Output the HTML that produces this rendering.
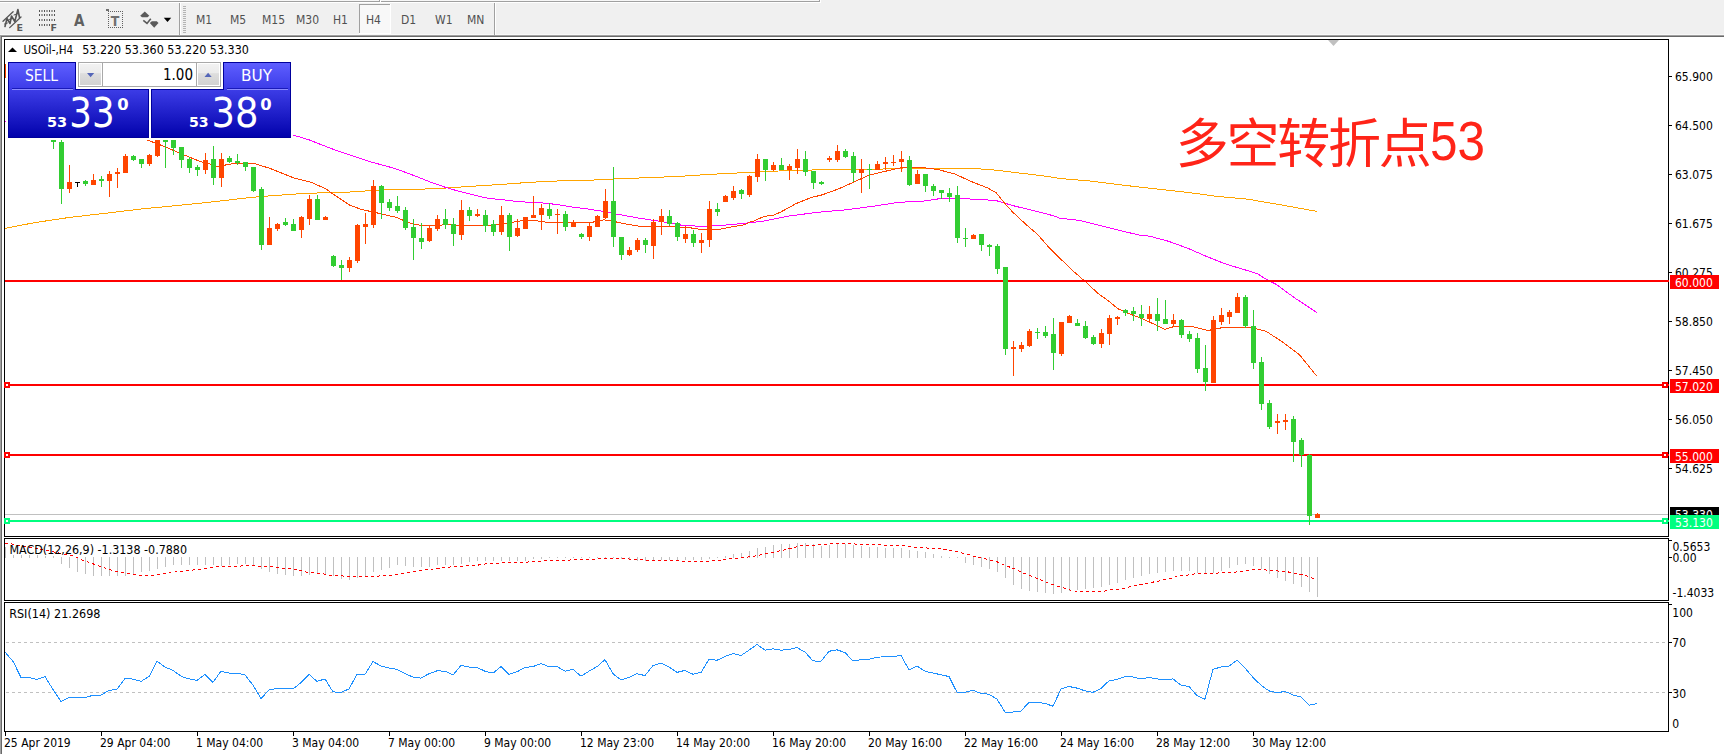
<!DOCTYPE html><html><head><meta charset="utf-8"><title>USOil H4</title><style>html,body{margin:0;padding:0;background:#fff;overflow:hidden}svg{display:block}</style></head><body><svg width="1724" height="754" viewBox="0 0 1724 754">
<rect x="0" y="0" width="1724" height="35" fill="#f0f0f0"/>
<rect x="0" y="0" width="819" height="1" fill="#f7f7f7"/>
<rect x="0" y="1" width="819" height="1" fill="#a0a0a0"/>
<rect x="819" y="0" width="1" height="2" fill="#a0a0a0"/>
<rect x="0" y="2" width="820" height="1" fill="#ffffff"/>
<rect x="820" y="0" width="1" height="3" fill="#ffffff"/>
<rect x="379" y="0" width="1" height="2" fill="#a0a0a0"/>
<rect x="380" y="0" width="1" height="2" fill="#ffffff"/>
<rect x="0" y="34" width="1724" height="1" fill="#f8f8f8"/>
<rect x="0" y="35" width="1724" height="1" fill="#a0a0a0"/>
<rect x="0" y="36" width="1724" height="1" fill="#696969"/>
<rect x="179" y="3" width="1" height="32" fill="#a0a0a0"/>
<rect x="180" y="3" width="1" height="32" fill="#ffffff"/>
<rect x="183" y="6" width="3" height="1" fill="#b4b4b4"/>
<rect x="183" y="8" width="3" height="1" fill="#b4b4b4"/>
<rect x="183" y="10" width="3" height="1" fill="#b4b4b4"/>
<rect x="183" y="12" width="3" height="1" fill="#b4b4b4"/>
<rect x="183" y="14" width="3" height="1" fill="#b4b4b4"/>
<rect x="183" y="16" width="3" height="1" fill="#b4b4b4"/>
<rect x="183" y="18" width="3" height="1" fill="#b4b4b4"/>
<rect x="183" y="20" width="3" height="1" fill="#b4b4b4"/>
<rect x="183" y="22" width="3" height="1" fill="#b4b4b4"/>
<rect x="183" y="24" width="3" height="1" fill="#b4b4b4"/>
<rect x="183" y="26" width="3" height="1" fill="#b4b4b4"/>
<rect x="183" y="28" width="3" height="1" fill="#b4b4b4"/>
<rect x="183" y="30" width="3" height="1" fill="#b4b4b4"/>
<rect x="183" y="32" width="3" height="1" fill="#b4b4b4"/>
<rect x="494" y="3" width="1" height="32" fill="#a0a0a0"/>
<rect x="495" y="3" width="1" height="32" fill="#ffffff"/>
<rect x="359" y="4" width="31" height="29" fill="#f8f8f8"/>
<rect x="359" y="4" width="31" height="1" fill="#a0a0a0"/>
<rect x="359" y="4" width="1" height="29" fill="#a0a0a0"/>
<rect x="390" y="4" width="1" height="29" fill="#ffffff"/>
<rect x="359" y="33" width="32" height="1" fill="#ffffff"/>
<text x="196" y="24" font-size="12" fill="#505050" text-anchor="start" font-weight="normal" font-family="'DejaVu Sans Condensed','DejaVu Sans','Liberation Sans',sans-serif" textLength="16.19" lengthAdjust="spacingAndGlyphs">M1</text>
<text x="230" y="24" font-size="12" fill="#505050" text-anchor="start" font-weight="normal" font-family="'DejaVu Sans Condensed','DejaVu Sans','Liberation Sans',sans-serif" textLength="16.19" lengthAdjust="spacingAndGlyphs">M5</text>
<text x="262" y="24" font-size="12" fill="#505050" text-anchor="start" font-weight="normal" font-family="'DejaVu Sans Condensed','DejaVu Sans','Liberation Sans',sans-serif" textLength="23.06" lengthAdjust="spacingAndGlyphs">M15</text>
<text x="296" y="24" font-size="12" fill="#505050" text-anchor="start" font-weight="normal" font-family="'DejaVu Sans Condensed','DejaVu Sans','Liberation Sans',sans-serif" textLength="23.06" lengthAdjust="spacingAndGlyphs">M30</text>
<text x="333" y="24" font-size="12" fill="#505050" text-anchor="start" font-weight="normal" font-family="'DejaVu Sans Condensed','DejaVu Sans','Liberation Sans',sans-serif" textLength="15" lengthAdjust="spacingAndGlyphs">H1</text>
<text x="366" y="24" font-size="12" fill="#505050" text-anchor="start" font-weight="normal" font-family="'DejaVu Sans Condensed','DejaVu Sans','Liberation Sans',sans-serif" textLength="15" lengthAdjust="spacingAndGlyphs">H4</text>
<text x="401" y="24" font-size="12" fill="#505050" text-anchor="start" font-weight="normal" font-family="'DejaVu Sans Condensed','DejaVu Sans','Liberation Sans',sans-serif" textLength="15.19" lengthAdjust="spacingAndGlyphs">D1</text>
<text x="435" y="24" font-size="12" fill="#505050" text-anchor="start" font-weight="normal" font-family="'DejaVu Sans Condensed','DejaVu Sans','Liberation Sans',sans-serif" textLength="17.55" lengthAdjust="spacingAndGlyphs">W1</text>
<text x="467" y="24" font-size="12" fill="#505050" text-anchor="start" font-weight="normal" font-family="'DejaVu Sans Condensed','DejaVu Sans','Liberation Sans',sans-serif" textLength="17.39" lengthAdjust="spacingAndGlyphs">MN</text>
<g stroke="#555555" fill="none" stroke-linecap="round" stroke-linejoin="round"><path d="M3 21.2 L13.1 11.7" stroke-width="1.3"/><path d="M9.7 27.6 L21 17" stroke-width="1.3"/><path d="M5 26.5 L7 18.5 L10 23.5 L11.5 16 L14.8 21.5 L17.9 9.5 L19.5 17.5" stroke-width="1.6"/><path d="M4.5 24 L7.5 23 M9 19.5 L12.5 18.5 M14 15 L18 13.5" stroke-width="1"/></g>
<text x="16.6" y="30.8" font-size="9.5" fill="#5a5a5a" text-anchor="start" font-weight="bold" font-family="'DejaVu Sans',sans-serif" textLength="6.5" lengthAdjust="spacingAndGlyphs">E</text>
<rect x="39" y="10" width="1" height="2" fill="#555555"/>
<rect x="44" y="10" width="1" height="2" fill="#555555"/>
<rect x="49" y="10" width="1" height="2" fill="#555555"/>
<rect x="54" y="10" width="1" height="2" fill="#555555"/>
<rect x="41" y="10" width="2" height="2" fill="#a0a0a0"/>
<rect x="46" y="10" width="2" height="2" fill="#a0a0a0"/>
<rect x="51" y="10" width="2" height="2" fill="#a0a0a0"/>
<rect x="39" y="14" width="1" height="2" fill="#555555"/>
<rect x="44" y="14" width="1" height="2" fill="#555555"/>
<rect x="49" y="14" width="1" height="2" fill="#555555"/>
<rect x="54" y="14" width="1" height="2" fill="#555555"/>
<rect x="41" y="14" width="2" height="2" fill="#a0a0a0"/>
<rect x="46" y="14" width="2" height="2" fill="#a0a0a0"/>
<rect x="51" y="14" width="2" height="2" fill="#a0a0a0"/>
<rect x="39" y="19" width="1" height="2" fill="#555555"/>
<rect x="44" y="19" width="1" height="2" fill="#555555"/>
<rect x="49" y="19" width="1" height="2" fill="#555555"/>
<rect x="54" y="19" width="1" height="2" fill="#555555"/>
<rect x="41" y="19" width="2" height="2" fill="#a0a0a0"/>
<rect x="46" y="19" width="2" height="2" fill="#a0a0a0"/>
<rect x="51" y="19" width="2" height="2" fill="#a0a0a0"/>
<rect x="39" y="24" width="1" height="2" fill="#555555"/>
<rect x="44" y="24" width="1" height="2" fill="#555555"/>
<rect x="49" y="24" width="1" height="2" fill="#555555"/>
<rect x="41" y="24" width="2" height="2" fill="#a0a0a0"/>
<rect x="46" y="24" width="2" height="2" fill="#a0a0a0"/>
<text x="50.6" y="30.8" font-size="9.5" fill="#5a5a5a" text-anchor="start" font-weight="bold" font-family="'DejaVu Sans',sans-serif" textLength="6.5" lengthAdjust="spacingAndGlyphs">F</text>
<text x="74" y="25.5" font-size="15" fill="#606060" text-anchor="start" font-weight="bold" font-family="'DejaVu Sans Condensed','DejaVu Sans',sans-serif" textLength="10.45" lengthAdjust="spacingAndGlyphs">A</text>
<rect x="108" y="11" width="1" height="1" fill="#606060"/>
<rect x="108" y="27" width="1" height="1" fill="#606060"/>
<rect x="110" y="11" width="1" height="1" fill="#606060"/>
<rect x="110" y="27" width="1" height="1" fill="#606060"/>
<rect x="112" y="11" width="1" height="1" fill="#606060"/>
<rect x="112" y="27" width="1" height="1" fill="#606060"/>
<rect x="114" y="11" width="1" height="1" fill="#606060"/>
<rect x="114" y="27" width="1" height="1" fill="#606060"/>
<rect x="116" y="11" width="1" height="1" fill="#606060"/>
<rect x="116" y="27" width="1" height="1" fill="#606060"/>
<rect x="118" y="11" width="1" height="1" fill="#606060"/>
<rect x="118" y="27" width="1" height="1" fill="#606060"/>
<rect x="120" y="11" width="1" height="1" fill="#606060"/>
<rect x="120" y="27" width="1" height="1" fill="#606060"/>
<rect x="122" y="11" width="1" height="1" fill="#606060"/>
<rect x="122" y="27" width="1" height="1" fill="#606060"/>
<rect x="108" y="13" width="1" height="1" fill="#606060"/>
<rect x="122" y="13" width="1" height="1" fill="#606060"/>
<rect x="108" y="15" width="1" height="1" fill="#606060"/>
<rect x="122" y="15" width="1" height="1" fill="#606060"/>
<rect x="108" y="17" width="1" height="1" fill="#606060"/>
<rect x="122" y="17" width="1" height="1" fill="#606060"/>
<rect x="108" y="19" width="1" height="1" fill="#606060"/>
<rect x="122" y="19" width="1" height="1" fill="#606060"/>
<rect x="108" y="21" width="1" height="1" fill="#606060"/>
<rect x="122" y="21" width="1" height="1" fill="#606060"/>
<rect x="108" y="23" width="1" height="1" fill="#606060"/>
<rect x="122" y="23" width="1" height="1" fill="#606060"/>
<rect x="108" y="25" width="1" height="1" fill="#606060"/>
<rect x="122" y="25" width="1" height="1" fill="#606060"/>
<rect x="106" y="9" width="3" height="2" fill="#707070"/>
<text x="110.8" y="25.5" font-size="14" fill="#707070" text-anchor="start" font-weight="bold" font-family="'DejaVu Sans Condensed','DejaVu Sans',sans-serif" textLength="8.59" lengthAdjust="spacingAndGlyphs">T</text>
<path d="M140.2 15.8 L144.8 11.4 L149.3 15.8 L147.5 17.3 L142 17.3 Z" fill="#5a5a5a"/><path d="M149.8 23 L151.8 21.2 L156.8 21.2 L158.5 23 L154.2 27.8 Z" fill="#5a5a5a"/><path d="M143.3 20.3 L147 23.4 L150.8 18.8" stroke="#5a5a5a" stroke-width="1.6" fill="none"/><path d="M163.8 17.8 L171.2 17.8 L167.5 22 Z" fill="#000"/>
<rect x="0" y="37" width="1724" height="717" fill="#ffffff"/>
<rect x="0" y="35" width="1" height="719" fill="#a0a0a0"/>
<rect x="1" y="36" width="1" height="718" fill="#696969"/>
<g shape-rendering="crispEdges">
<rect x="4" y="39" width="1665" height="1" fill="#000"/>
<rect x="4" y="39" width="1" height="693" fill="#000"/>
<rect x="1668" y="39" width="1" height="693" fill="#000"/>
<rect x="4" y="536" width="1665" height="1" fill="#000"/>
<rect x="4" y="538" width="1665" height="1" fill="#000"/>
<rect x="4" y="600" width="1665" height="1" fill="#000"/>
<rect x="4" y="602" width="1665" height="1" fill="#000"/>
<rect x="4" y="731" width="1665" height="1" fill="#000"/>
<rect x="1668" y="537" width="1" height="1" fill="#fff"/>
<rect x="1668" y="601" width="1" height="1" fill="#fff"/>
<rect x="4" y="537" width="1" height="1" fill="#fff"/>
<rect x="4" y="601" width="1" height="1" fill="#fff"/>
</g>
<rect x="1669" y="76" width="3" height="1" fill="#000"/>
<text x="1675" y="81" font-size="12" fill="#000" text-anchor="start" font-weight="normal" font-family="'DejaVu Sans Condensed','DejaVu Sans','Liberation Sans',sans-serif" textLength="37.77" lengthAdjust="spacingAndGlyphs">65.900</text>
<rect x="1669" y="125" width="3" height="1" fill="#000"/>
<text x="1675" y="130" font-size="12" fill="#000" text-anchor="start" font-weight="normal" font-family="'DejaVu Sans Condensed','DejaVu Sans','Liberation Sans',sans-serif" textLength="37.77" lengthAdjust="spacingAndGlyphs">64.500</text>
<rect x="1669" y="174" width="3" height="1" fill="#000"/>
<text x="1675" y="179" font-size="12" fill="#000" text-anchor="start" font-weight="normal" font-family="'DejaVu Sans Condensed','DejaVu Sans','Liberation Sans',sans-serif" textLength="37.77" lengthAdjust="spacingAndGlyphs">63.075</text>
<rect x="1669" y="223" width="3" height="1" fill="#000"/>
<text x="1675" y="228" font-size="12" fill="#000" text-anchor="start" font-weight="normal" font-family="'DejaVu Sans Condensed','DejaVu Sans','Liberation Sans',sans-serif" textLength="37.77" lengthAdjust="spacingAndGlyphs">61.675</text>
<rect x="1669" y="272" width="3" height="1" fill="#000"/>
<text x="1675" y="277" font-size="12" fill="#000" text-anchor="start" font-weight="normal" font-family="'DejaVu Sans Condensed','DejaVu Sans','Liberation Sans',sans-serif" textLength="37.77" lengthAdjust="spacingAndGlyphs">60.275</text>
<rect x="1669" y="321" width="3" height="1" fill="#000"/>
<text x="1675" y="326" font-size="12" fill="#000" text-anchor="start" font-weight="normal" font-family="'DejaVu Sans Condensed','DejaVu Sans','Liberation Sans',sans-serif" textLength="37.77" lengthAdjust="spacingAndGlyphs">58.850</text>
<rect x="1669" y="370" width="3" height="1" fill="#000"/>
<text x="1675" y="375" font-size="12" fill="#000" text-anchor="start" font-weight="normal" font-family="'DejaVu Sans Condensed','DejaVu Sans','Liberation Sans',sans-serif" textLength="37.77" lengthAdjust="spacingAndGlyphs">57.450</text>
<rect x="1669" y="419" width="3" height="1" fill="#000"/>
<text x="1675" y="424" font-size="12" fill="#000" text-anchor="start" font-weight="normal" font-family="'DejaVu Sans Condensed','DejaVu Sans','Liberation Sans',sans-serif" textLength="37.77" lengthAdjust="spacingAndGlyphs">56.050</text>
<rect x="1669" y="468" width="3" height="1" fill="#000"/>
<text x="1675" y="473" font-size="12" fill="#000" text-anchor="start" font-weight="normal" font-family="'DejaVu Sans Condensed','DejaVu Sans','Liberation Sans',sans-serif" textLength="37.77" lengthAdjust="spacingAndGlyphs">54.625</text>
<defs><clipPath id="cMain"><rect x="5" y="40" width="1663" height="496"/></clipPath></defs>
<g clip-path="url(#cMain)">
<g fill="none" stroke-width="1" shape-rendering="crispEdges" stroke-linejoin="round">
<polyline points="5.0,228.4 34.8,222.6 69.6,217.4 104.4,213.4 139.2,209.2 174.0,205.8 208.8,202.3 243.6,198.3 261.0,196.5 289.6,194.5 305.5,193.2 328.8,192.8 353.2,191.9 374.0,190.3 395.9,189.3 415.0,189.5 444.2,188.1 473.4,186.2 502.6,184.3 531.7,182.2 560.9,180.8 585.0,180.5 616.5,178.8 653.0,177.5 682.1,176.2 711.3,174.3 740.5,172.8 768.3,171.5 793.2,170.3 832.6,169.7 861.7,169.3 890.9,168.9 905.0,167.9 938.2,168.4 976.3,168.6 996.2,170.2 1021.1,173.2 1046.0,176.2 1060.0,178.5 1091.3,181.1 1122.6,185.1 1154.0,188.7 1191.6,192.9 1216.6,196.3 1248.0,199.2 1279.3,204.6 1316.9,211.4" stroke="#ffa500"/>
<polyline points="5.0,121.0 150.0,128.0 293.0,135.0 309.5,140.0 329.4,147.9 349.3,154.9 370.0,161.7 395.0,168.5 415.0,175.9 429.6,181.8 444.2,186.9 458.8,191.3 473.4,194.9 488.0,198.3 502.6,199.7 517.1,201.5 531.7,202.4 546.3,203.2 560.9,205.1 575.5,207.6 585.0,208.5 601.9,211.2 616.5,214.1 638.4,218.0 660.3,221.4 682.1,225.3 704.0,226.5 725.9,225.0 745.0,223.3 764.0,221.1 788.8,216.0 818.0,212.3 847.1,209.7 876.3,205.8 898.2,202.4 915.0,201.4 921.6,201.4 938.2,198.9 954.8,198.4 979.6,199.4 996.2,200.6 1012.8,205.6 1037.7,211.7 1054.3,216.0 1060.0,218.3 1078.8,220.3 1107.0,227.3 1138.3,234.9 1150.0,236.3 1168.9,241.4 1187.8,248.3 1206.7,256.5 1225.6,264.0 1244.5,269.7 1257.0,273.5 1267.1,279.8 1275.9,284.2 1294.8,298.0 1316.9,312.5" stroke="#ff00ff"/>
<polyline points="7.0,92.0 100.0,122.0 147.0,140.0 159.4,144.5 179.3,152.9 191.2,157.9 200.0,161.4 210.0,163.9 218.0,166.8 226.0,164.9 235.0,163.4 253.7,163.4 269.7,168.3 293.5,177.8 311.3,182.3 325.9,188.9 331.7,193.2 349.2,204.9 360.9,209.3 378.4,213.2 395.9,217.3 410.5,223.2 420.0,225.3 432.5,226.0 444.2,224.8 458.8,225.1 482.1,226.0 496.7,224.8 508.4,223.4 517.1,221.2 531.7,220.2 546.3,222.2 560.9,222.6 585.0,222.2 591.7,222.4 603.3,219.9 609.2,220.4 623.8,223.6 641.3,226.5 667.6,226.5 689.4,227.7 701.1,229.4 718.6,229.4 733.2,226.5 743.4,225.0 750.0,222.1 753.8,221.1 764.0,216.4 774.2,215.0 781.5,211.6 796.1,203.6 810.7,197.7 822.3,194.8 838.4,189.0 853.0,182.4 869.0,175.1 890.9,170.0 902.6,167.4 921.6,167.4 938.2,169.6 954.8,174.0 971.3,181.5 987.9,188.1 996.2,192.8 1004.5,203.1 1012.8,212.2 1024.4,223.0 1037.7,234.6 1049.3,247.8 1062.5,260.8 1072.9,270.8 1086.2,282.4 1097.8,293.2 1109.4,301.6 1117.8,308.7 1127.4,313.1 1140.9,318.2 1157.6,325.8 1164.9,329.3 1174.9,326.3 1191.5,326.3 1208.0,330.5 1224.6,327.2 1249.5,327.2 1266.1,331.3 1282.7,342.1 1299.3,354.5 1316.7,376.1" stroke="#ff4500"/>
</g>
</g>
<rect x="5" y="280" width="1664" height="2" fill="#ff0000"/>
<rect x="5" y="384" width="1664" height="2" fill="#ff0000"/>
<rect x="4" y="382" width="6" height="6" fill="#ff0000"/>
<rect x="6" y="384" width="2" height="2" fill="#fff"/>
<rect x="1662" y="382" width="6" height="6" fill="#ff0000"/>
<rect x="1664" y="384" width="2" height="2" fill="#fff"/>
<rect x="1668" y="384" width="1" height="2" fill="#ff0000"/>
<rect x="5" y="454" width="1664" height="2" fill="#ff0000"/>
<rect x="4" y="452" width="6" height="6" fill="#ff0000"/>
<rect x="6" y="454" width="2" height="2" fill="#fff"/>
<rect x="1662" y="452" width="6" height="6" fill="#ff0000"/>
<rect x="1664" y="454" width="2" height="2" fill="#fff"/>
<rect x="1668" y="454" width="1" height="2" fill="#ff0000"/>
<rect x="5" y="514" width="1663" height="1" fill="#c0c0c0"/>
<rect x="5" y="520" width="1664" height="2" fill="#00ff7f"/>
<rect x="4" y="518" width="6" height="6" fill="#00ff7f"/>
<rect x="6" y="520" width="2" height="2" fill="#fff"/>
<rect x="1662" y="518" width="6" height="6" fill="#00ff7f"/>
<rect x="1664" y="520" width="2" height="2" fill="#fff"/>
<rect x="1668" y="520" width="1" height="2" fill="#00ff7f"/>
<g clip-path="url(#cMain)">
<g shape-rendering="crispEdges">
<rect x="5" y="64" width="1" height="14" fill="#ff4500"/>
<rect x="3" y="64" width="5" height="11" fill="#ff4500"/>
<rect x="53" y="140" width="1" height="9" fill="#32cd32"/>
<rect x="51" y="140" width="5" height="2" fill="#32cd32"/>
<rect x="61" y="140" width="1" height="64" fill="#32cd32"/>
<rect x="59" y="142" width="5" height="47" fill="#32cd32"/>
<rect x="69" y="165" width="1" height="28" fill="#ff4500"/>
<rect x="67" y="182" width="5" height="7" fill="#ff4500"/>
<rect x="77" y="182" width="1" height="5" fill="#000"/>
<rect x="75" y="182" width="5" height="1" fill="#000"/>
<rect x="85" y="180" width="1" height="6" fill="#32cd32"/>
<rect x="83" y="181" width="5" height="3" fill="#32cd32"/>
<rect x="93" y="174" width="1" height="11" fill="#ff4500"/>
<rect x="91" y="180" width="5" height="5" fill="#ff4500"/>
<rect x="101" y="176" width="1" height="11" fill="#32cd32"/>
<rect x="99" y="179" width="5" height="2" fill="#32cd32"/>
<rect x="109" y="171" width="1" height="26" fill="#ff4500"/>
<rect x="107" y="174" width="5" height="7" fill="#ff4500"/>
<rect x="117" y="168" width="1" height="20" fill="#ff4500"/>
<rect x="115" y="172" width="5" height="2" fill="#ff4500"/>
<rect x="125" y="154" width="1" height="19" fill="#ff4500"/>
<rect x="123" y="156" width="5" height="17" fill="#ff4500"/>
<rect x="133" y="155" width="1" height="6" fill="#32cd32"/>
<rect x="131" y="156" width="5" height="4" fill="#32cd32"/>
<rect x="141" y="159" width="1" height="9" fill="#32cd32"/>
<rect x="139" y="159" width="5" height="5" fill="#32cd32"/>
<rect x="149" y="154" width="1" height="12" fill="#ff4500"/>
<rect x="147" y="155" width="5" height="9" fill="#ff4500"/>
<rect x="157" y="140" width="1" height="17" fill="#ff4500"/>
<rect x="155" y="140" width="5" height="16" fill="#ff4500"/>
<rect x="165" y="140" width="1" height="28" fill="#32cd32"/>
<rect x="163" y="140" width="5" height="2" fill="#32cd32"/>
<rect x="173" y="140" width="1" height="15" fill="#32cd32"/>
<rect x="171" y="140" width="5" height="8" fill="#32cd32"/>
<rect x="181" y="147" width="1" height="21" fill="#32cd32"/>
<rect x="179" y="147" width="5" height="13" fill="#32cd32"/>
<rect x="189" y="157" width="1" height="16" fill="#32cd32"/>
<rect x="187" y="159" width="5" height="9" fill="#32cd32"/>
<rect x="197" y="165" width="1" height="11" fill="#32cd32"/>
<rect x="195" y="167" width="5" height="3" fill="#32cd32"/>
<rect x="205" y="153" width="1" height="21" fill="#ff4500"/>
<rect x="203" y="160" width="5" height="10" fill="#ff4500"/>
<rect x="213" y="146" width="1" height="39" fill="#32cd32"/>
<rect x="211" y="159" width="5" height="19" fill="#32cd32"/>
<rect x="221" y="153" width="1" height="34" fill="#ff4500"/>
<rect x="219" y="159" width="5" height="19" fill="#ff4500"/>
<rect x="229" y="156" width="1" height="7" fill="#32cd32"/>
<rect x="227" y="158" width="5" height="4" fill="#32cd32"/>
<rect x="237" y="154" width="1" height="11" fill="#32cd32"/>
<rect x="235" y="161" width="5" height="2" fill="#32cd32"/>
<rect x="245" y="162" width="1" height="9" fill="#32cd32"/>
<rect x="243" y="162" width="5" height="5" fill="#32cd32"/>
<rect x="253" y="167" width="1" height="25" fill="#32cd32"/>
<rect x="251" y="167" width="5" height="24" fill="#32cd32"/>
<rect x="261" y="187" width="1" height="63" fill="#32cd32"/>
<rect x="259" y="189" width="5" height="56" fill="#32cd32"/>
<rect x="269" y="217" width="1" height="28" fill="#ff4500"/>
<rect x="267" y="228" width="5" height="17" fill="#ff4500"/>
<rect x="277" y="223" width="1" height="8" fill="#ff4500"/>
<rect x="275" y="224" width="5" height="5" fill="#ff4500"/>
<rect x="285" y="218" width="1" height="8" fill="#32cd32"/>
<rect x="283" y="222" width="5" height="3" fill="#32cd32"/>
<rect x="293" y="219" width="1" height="12" fill="#32cd32"/>
<rect x="291" y="224" width="5" height="7" fill="#32cd32"/>
<rect x="301" y="216" width="1" height="22" fill="#ff4500"/>
<rect x="299" y="217" width="5" height="13" fill="#ff4500"/>
<rect x="309" y="195" width="1" height="30" fill="#ff4500"/>
<rect x="307" y="199" width="5" height="20" fill="#ff4500"/>
<rect x="317" y="195" width="1" height="25" fill="#32cd32"/>
<rect x="315" y="199" width="5" height="21" fill="#32cd32"/>
<rect x="325" y="216" width="1" height="4" fill="#ff4500"/>
<rect x="323" y="217" width="5" height="3" fill="#ff4500"/>
<rect x="333" y="255" width="1" height="12" fill="#32cd32"/>
<rect x="331" y="256" width="5" height="10" fill="#32cd32"/>
<rect x="341" y="260" width="1" height="20" fill="#32cd32"/>
<rect x="339" y="265" width="5" height="3" fill="#32cd32"/>
<rect x="349" y="257" width="1" height="15" fill="#ff4500"/>
<rect x="347" y="260" width="5" height="8" fill="#ff4500"/>
<rect x="357" y="224" width="1" height="39" fill="#ff4500"/>
<rect x="355" y="225" width="5" height="36" fill="#ff4500"/>
<rect x="365" y="213" width="1" height="31" fill="#ff4500"/>
<rect x="363" y="224" width="5" height="3" fill="#ff4500"/>
<rect x="373" y="180" width="1" height="48" fill="#ff4500"/>
<rect x="371" y="186" width="5" height="39" fill="#ff4500"/>
<rect x="381" y="185" width="1" height="34" fill="#32cd32"/>
<rect x="379" y="186" width="5" height="17" fill="#32cd32"/>
<rect x="389" y="199" width="1" height="12" fill="#32cd32"/>
<rect x="387" y="202" width="5" height="6" fill="#32cd32"/>
<rect x="397" y="196" width="1" height="17" fill="#32cd32"/>
<rect x="395" y="206" width="5" height="5" fill="#32cd32"/>
<rect x="405" y="207" width="1" height="23" fill="#32cd32"/>
<rect x="403" y="210" width="5" height="18" fill="#32cd32"/>
<rect x="413" y="219" width="1" height="41" fill="#32cd32"/>
<rect x="411" y="227" width="5" height="11" fill="#32cd32"/>
<rect x="421" y="223" width="1" height="26" fill="#32cd32"/>
<rect x="419" y="238" width="5" height="4" fill="#32cd32"/>
<rect x="429" y="225" width="1" height="17" fill="#ff4500"/>
<rect x="427" y="228" width="5" height="13" fill="#ff4500"/>
<rect x="437" y="215" width="1" height="16" fill="#ff4500"/>
<rect x="435" y="219" width="5" height="10" fill="#ff4500"/>
<rect x="445" y="209" width="1" height="20" fill="#32cd32"/>
<rect x="443" y="219" width="5" height="6" fill="#32cd32"/>
<rect x="453" y="218" width="1" height="28" fill="#32cd32"/>
<rect x="451" y="224" width="5" height="10" fill="#32cd32"/>
<rect x="461" y="200" width="1" height="40" fill="#ff4500"/>
<rect x="459" y="210" width="5" height="25" fill="#ff4500"/>
<rect x="469" y="207" width="1" height="14" fill="#32cd32"/>
<rect x="467" y="210" width="5" height="6" fill="#32cd32"/>
<rect x="477" y="209" width="1" height="8" fill="#ff4500"/>
<rect x="475" y="214" width="5" height="2" fill="#ff4500"/>
<rect x="485" y="210" width="1" height="22" fill="#32cd32"/>
<rect x="483" y="215" width="5" height="11" fill="#32cd32"/>
<rect x="493" y="220" width="1" height="16" fill="#32cd32"/>
<rect x="491" y="224" width="5" height="8" fill="#32cd32"/>
<rect x="501" y="206" width="1" height="29" fill="#ff4500"/>
<rect x="499" y="215" width="5" height="17" fill="#ff4500"/>
<rect x="509" y="213" width="1" height="38" fill="#32cd32"/>
<rect x="507" y="215" width="5" height="22" fill="#32cd32"/>
<rect x="517" y="219" width="1" height="18" fill="#ff4500"/>
<rect x="515" y="228" width="5" height="8" fill="#ff4500"/>
<rect x="525" y="217" width="1" height="12" fill="#ff4500"/>
<rect x="523" y="217" width="5" height="12" fill="#ff4500"/>
<rect x="533" y="196" width="1" height="22" fill="#ff4500"/>
<rect x="531" y="215" width="5" height="3" fill="#ff4500"/>
<rect x="541" y="204" width="1" height="26" fill="#ff4500"/>
<rect x="539" y="208" width="5" height="7" fill="#ff4500"/>
<rect x="549" y="203" width="1" height="16" fill="#32cd32"/>
<rect x="547" y="209" width="5" height="7" fill="#32cd32"/>
<rect x="557" y="209" width="1" height="25" fill="#ff4500"/>
<rect x="555" y="214" width="5" height="1" fill="#ff4500"/>
<rect x="565" y="211" width="1" height="20" fill="#32cd32"/>
<rect x="563" y="214" width="5" height="13" fill="#32cd32"/>
<rect x="573" y="220" width="1" height="7" fill="#ff4500"/>
<rect x="571" y="223" width="5" height="4" fill="#ff4500"/>
<rect x="581" y="233" width="1" height="6" fill="#32cd32"/>
<rect x="579" y="234" width="5" height="3" fill="#32cd32"/>
<rect x="589" y="222" width="1" height="19" fill="#ff4500"/>
<rect x="587" y="226" width="5" height="11" fill="#ff4500"/>
<rect x="597" y="215" width="1" height="12" fill="#ff4500"/>
<rect x="595" y="216" width="5" height="11" fill="#ff4500"/>
<rect x="605" y="189" width="1" height="30" fill="#ff4500"/>
<rect x="603" y="201" width="5" height="17" fill="#ff4500"/>
<rect x="613" y="167" width="1" height="80" fill="#32cd32"/>
<rect x="611" y="201" width="5" height="36" fill="#32cd32"/>
<rect x="621" y="237" width="1" height="23" fill="#32cd32"/>
<rect x="619" y="237" width="5" height="18" fill="#32cd32"/>
<rect x="629" y="247" width="1" height="9" fill="#ff4500"/>
<rect x="627" y="250" width="5" height="5" fill="#ff4500"/>
<rect x="637" y="238" width="1" height="14" fill="#ff4500"/>
<rect x="635" y="240" width="5" height="10" fill="#ff4500"/>
<rect x="645" y="238" width="1" height="15" fill="#32cd32"/>
<rect x="643" y="240" width="5" height="5" fill="#32cd32"/>
<rect x="653" y="219" width="1" height="40" fill="#ff4500"/>
<rect x="651" y="222" width="5" height="24" fill="#ff4500"/>
<rect x="661" y="209" width="1" height="26" fill="#ff4500"/>
<rect x="659" y="216" width="5" height="6" fill="#ff4500"/>
<rect x="669" y="210" width="1" height="16" fill="#32cd32"/>
<rect x="667" y="216" width="5" height="8" fill="#32cd32"/>
<rect x="677" y="222" width="1" height="19" fill="#32cd32"/>
<rect x="675" y="223" width="5" height="14" fill="#32cd32"/>
<rect x="685" y="226" width="1" height="17" fill="#ff4500"/>
<rect x="683" y="234" width="5" height="5" fill="#ff4500"/>
<rect x="693" y="230" width="1" height="17" fill="#32cd32"/>
<rect x="691" y="234" width="5" height="9" fill="#32cd32"/>
<rect x="701" y="233" width="1" height="20" fill="#ff4500"/>
<rect x="699" y="240" width="5" height="3" fill="#ff4500"/>
<rect x="709" y="201" width="1" height="46" fill="#ff4500"/>
<rect x="707" y="209" width="5" height="31" fill="#ff4500"/>
<rect x="717" y="203" width="1" height="13" fill="#32cd32"/>
<rect x="715" y="209" width="5" height="3" fill="#32cd32"/>
<rect x="725" y="195" width="1" height="7" fill="#ff4500"/>
<rect x="723" y="196" width="5" height="6" fill="#ff4500"/>
<rect x="733" y="186" width="1" height="14" fill="#ff4500"/>
<rect x="731" y="191" width="5" height="7" fill="#ff4500"/>
<rect x="741" y="189" width="1" height="10" fill="#32cd32"/>
<rect x="739" y="190" width="5" height="4" fill="#32cd32"/>
<rect x="749" y="175" width="1" height="22" fill="#ff4500"/>
<rect x="747" y="176" width="5" height="19" fill="#ff4500"/>
<rect x="757" y="154" width="1" height="28" fill="#ff4500"/>
<rect x="755" y="159" width="5" height="18" fill="#ff4500"/>
<rect x="765" y="159" width="1" height="22" fill="#32cd32"/>
<rect x="763" y="159" width="5" height="11" fill="#32cd32"/>
<rect x="773" y="162" width="1" height="9" fill="#ff4500"/>
<rect x="771" y="165" width="5" height="5" fill="#ff4500"/>
<rect x="781" y="158" width="1" height="12" fill="#32cd32"/>
<rect x="779" y="165" width="5" height="5" fill="#32cd32"/>
<rect x="789" y="164" width="1" height="16" fill="#ff4500"/>
<rect x="787" y="166" width="5" height="4" fill="#ff4500"/>
<rect x="797" y="149" width="1" height="25" fill="#ff4500"/>
<rect x="795" y="159" width="5" height="9" fill="#ff4500"/>
<rect x="805" y="151" width="1" height="25" fill="#32cd32"/>
<rect x="803" y="159" width="5" height="13" fill="#32cd32"/>
<rect x="813" y="171" width="1" height="18" fill="#32cd32"/>
<rect x="811" y="171" width="5" height="12" fill="#32cd32"/>
<rect x="821" y="181" width="1" height="4" fill="#32cd32"/>
<rect x="819" y="182" width="5" height="2" fill="#32cd32"/>
<rect x="829" y="156" width="1" height="6" fill="#ff4500"/>
<rect x="827" y="158" width="5" height="2" fill="#ff4500"/>
<rect x="837" y="145" width="1" height="17" fill="#ff4500"/>
<rect x="835" y="151" width="5" height="9" fill="#ff4500"/>
<rect x="845" y="149" width="1" height="9" fill="#32cd32"/>
<rect x="843" y="151" width="5" height="6" fill="#32cd32"/>
<rect x="853" y="152" width="1" height="30" fill="#32cd32"/>
<rect x="851" y="156" width="5" height="17" fill="#32cd32"/>
<rect x="861" y="159" width="1" height="34" fill="#ff4500"/>
<rect x="859" y="169" width="5" height="4" fill="#ff4500"/>
<rect x="869" y="164" width="1" height="25" fill="#32cd32"/>
<rect x="867" y="169" width="5" height="1" fill="#32cd32"/>
<rect x="877" y="161" width="1" height="9" fill="#ff4500"/>
<rect x="875" y="164" width="5" height="6" fill="#ff4500"/>
<rect x="885" y="157" width="1" height="13" fill="#ff4500"/>
<rect x="883" y="162" width="5" height="2" fill="#ff4500"/>
<rect x="893" y="155" width="1" height="11" fill="#ff4500"/>
<rect x="891" y="162" width="5" height="1" fill="#ff4500"/>
<rect x="901" y="151" width="1" height="21" fill="#ff4500"/>
<rect x="899" y="159" width="5" height="3" fill="#ff4500"/>
<rect x="909" y="156" width="1" height="30" fill="#32cd32"/>
<rect x="907" y="160" width="5" height="25" fill="#32cd32"/>
<rect x="917" y="170" width="1" height="14" fill="#ff4500"/>
<rect x="915" y="174" width="5" height="10" fill="#ff4500"/>
<rect x="925" y="174" width="1" height="18" fill="#32cd32"/>
<rect x="923" y="174" width="5" height="12" fill="#32cd32"/>
<rect x="933" y="184" width="1" height="12" fill="#32cd32"/>
<rect x="931" y="186" width="5" height="5" fill="#32cd32"/>
<rect x="941" y="190" width="1" height="9" fill="#32cd32"/>
<rect x="939" y="190" width="5" height="3" fill="#32cd32"/>
<rect x="949" y="188" width="1" height="14" fill="#32cd32"/>
<rect x="947" y="193" width="5" height="4" fill="#32cd32"/>
<rect x="957" y="186" width="1" height="57" fill="#32cd32"/>
<rect x="955" y="195" width="5" height="43" fill="#32cd32"/>
<rect x="965" y="228" width="1" height="19" fill="#32cd32"/>
<rect x="963" y="238" width="5" height="1" fill="#32cd32"/>
<rect x="973" y="234" width="1" height="5" fill="#ff4500"/>
<rect x="971" y="235" width="5" height="4" fill="#ff4500"/>
<rect x="981" y="234" width="1" height="17" fill="#32cd32"/>
<rect x="979" y="234" width="5" height="11" fill="#32cd32"/>
<rect x="989" y="244" width="1" height="12" fill="#32cd32"/>
<rect x="987" y="245" width="5" height="2" fill="#32cd32"/>
<rect x="997" y="244" width="1" height="30" fill="#32cd32"/>
<rect x="995" y="246" width="5" height="23" fill="#32cd32"/>
<rect x="1005" y="267" width="1" height="88" fill="#32cd32"/>
<rect x="1003" y="267" width="5" height="82" fill="#32cd32"/>
<rect x="1013" y="341" width="1" height="35" fill="#ff4500"/>
<rect x="1011" y="347" width="5" height="2" fill="#ff4500"/>
<rect x="1021" y="342" width="1" height="10" fill="#ff4500"/>
<rect x="1019" y="345" width="5" height="4" fill="#ff4500"/>
<rect x="1029" y="329" width="1" height="18" fill="#ff4500"/>
<rect x="1027" y="331" width="5" height="15" fill="#ff4500"/>
<rect x="1037" y="328" width="1" height="11" fill="#32cd32"/>
<rect x="1035" y="332" width="5" height="1" fill="#32cd32"/>
<rect x="1045" y="326" width="1" height="12" fill="#32cd32"/>
<rect x="1043" y="332" width="5" height="4" fill="#32cd32"/>
<rect x="1053" y="318" width="1" height="52" fill="#32cd32"/>
<rect x="1051" y="334" width="5" height="19" fill="#32cd32"/>
<rect x="1061" y="322" width="1" height="34" fill="#ff4500"/>
<rect x="1059" y="322" width="5" height="32" fill="#ff4500"/>
<rect x="1069" y="315" width="1" height="8" fill="#ff4500"/>
<rect x="1067" y="316" width="5" height="7" fill="#ff4500"/>
<rect x="1077" y="319" width="1" height="7" fill="#32cd32"/>
<rect x="1075" y="323" width="5" height="3" fill="#32cd32"/>
<rect x="1085" y="321" width="1" height="18" fill="#32cd32"/>
<rect x="1083" y="326" width="5" height="12" fill="#32cd32"/>
<rect x="1093" y="335" width="1" height="10" fill="#32cd32"/>
<rect x="1091" y="337" width="5" height="7" fill="#32cd32"/>
<rect x="1101" y="329" width="1" height="19" fill="#ff4500"/>
<rect x="1099" y="333" width="5" height="11" fill="#ff4500"/>
<rect x="1109" y="315" width="1" height="30" fill="#ff4500"/>
<rect x="1107" y="318" width="5" height="16" fill="#ff4500"/>
<rect x="1117" y="316" width="1" height="9" fill="#ff4500"/>
<rect x="1115" y="317" width="5" height="2" fill="#ff4500"/>
<rect x="1125" y="309" width="1" height="7" fill="#32cd32"/>
<rect x="1123" y="310" width="5" height="3" fill="#32cd32"/>
<rect x="1133" y="307" width="1" height="14" fill="#32cd32"/>
<rect x="1131" y="311" width="5" height="3" fill="#32cd32"/>
<rect x="1141" y="305" width="1" height="21" fill="#32cd32"/>
<rect x="1139" y="314" width="5" height="4" fill="#32cd32"/>
<rect x="1149" y="306" width="1" height="17" fill="#ff4500"/>
<rect x="1147" y="314" width="5" height="5" fill="#ff4500"/>
<rect x="1157" y="298" width="1" height="33" fill="#32cd32"/>
<rect x="1155" y="314" width="5" height="7" fill="#32cd32"/>
<rect x="1165" y="300" width="1" height="24" fill="#32cd32"/>
<rect x="1163" y="319" width="5" height="5" fill="#32cd32"/>
<rect x="1173" y="314" width="1" height="13" fill="#ff4500"/>
<rect x="1171" y="320" width="5" height="4" fill="#ff4500"/>
<rect x="1181" y="319" width="1" height="19" fill="#32cd32"/>
<rect x="1179" y="320" width="5" height="15" fill="#32cd32"/>
<rect x="1189" y="331" width="1" height="11" fill="#32cd32"/>
<rect x="1187" y="334" width="5" height="5" fill="#32cd32"/>
<rect x="1197" y="333" width="1" height="40" fill="#32cd32"/>
<rect x="1195" y="338" width="5" height="31" fill="#32cd32"/>
<rect x="1205" y="345" width="1" height="46" fill="#32cd32"/>
<rect x="1203" y="368" width="5" height="14" fill="#32cd32"/>
<rect x="1213" y="316" width="1" height="67" fill="#ff4500"/>
<rect x="1211" y="320" width="5" height="63" fill="#ff4500"/>
<rect x="1221" y="308" width="1" height="17" fill="#ff4500"/>
<rect x="1219" y="315" width="5" height="7" fill="#ff4500"/>
<rect x="1229" y="310" width="1" height="14" fill="#ff4500"/>
<rect x="1227" y="312" width="5" height="5" fill="#ff4500"/>
<rect x="1237" y="293" width="1" height="20" fill="#ff4500"/>
<rect x="1235" y="297" width="5" height="16" fill="#ff4500"/>
<rect x="1245" y="295" width="1" height="33" fill="#32cd32"/>
<rect x="1243" y="297" width="5" height="29" fill="#32cd32"/>
<rect x="1253" y="310" width="1" height="59" fill="#32cd32"/>
<rect x="1251" y="326" width="5" height="37" fill="#32cd32"/>
<rect x="1261" y="357" width="1" height="53" fill="#32cd32"/>
<rect x="1259" y="362" width="5" height="42" fill="#32cd32"/>
<rect x="1269" y="400" width="1" height="29" fill="#32cd32"/>
<rect x="1267" y="403" width="5" height="24" fill="#32cd32"/>
<rect x="1277" y="414" width="1" height="20" fill="#ff4500"/>
<rect x="1275" y="421" width="5" height="2" fill="#ff4500"/>
<rect x="1285" y="414" width="1" height="16" fill="#ff4500"/>
<rect x="1283" y="420" width="5" height="2" fill="#ff4500"/>
<rect x="1293" y="416" width="1" height="46" fill="#32cd32"/>
<rect x="1291" y="419" width="5" height="23" fill="#32cd32"/>
<rect x="1301" y="438" width="1" height="29" fill="#32cd32"/>
<rect x="1299" y="440" width="5" height="15" fill="#32cd32"/>
<rect x="1309" y="454" width="1" height="71" fill="#32cd32"/>
<rect x="1307" y="455" width="5" height="61" fill="#32cd32"/>
<rect x="1317" y="513" width="1" height="5" fill="#ff4500"/>
<rect x="1315" y="514" width="5" height="4" fill="#ff4500"/>
</g>
</g>
<rect x="1670" y="275" width="49" height="14" fill="#ff0000"/>
<text x="1675" y="287" font-size="12" fill="#fff" text-anchor="start" font-weight="normal" font-family="'DejaVu Sans Condensed','DejaVu Sans','Liberation Sans',sans-serif" textLength="37.77" lengthAdjust="spacingAndGlyphs">60.000</text>
<rect x="1670" y="379" width="49" height="14" fill="#ff0000"/>
<text x="1675" y="391" font-size="12" fill="#fff" text-anchor="start" font-weight="normal" font-family="'DejaVu Sans Condensed','DejaVu Sans','Liberation Sans',sans-serif" textLength="37.77" lengthAdjust="spacingAndGlyphs">57.020</text>
<rect x="1670" y="449" width="49" height="14" fill="#ff0000"/>
<text x="1675" y="461" font-size="12" fill="#fff" text-anchor="start" font-weight="normal" font-family="'DejaVu Sans Condensed','DejaVu Sans','Liberation Sans',sans-serif" textLength="37.77" lengthAdjust="spacingAndGlyphs">55.000</text>
<rect x="1670" y="507" width="49" height="14" fill="#000000"/>
<text x="1675" y="519" font-size="12" fill="#fff" text-anchor="start" font-weight="normal" font-family="'DejaVu Sans Condensed','DejaVu Sans','Liberation Sans',sans-serif" textLength="37.77" lengthAdjust="spacingAndGlyphs">53.330</text>
<rect x="1670" y="515" width="49" height="14" fill="#00ff7f"/>
<text x="1675" y="527" font-size="12" fill="#fff" text-anchor="start" font-weight="normal" font-family="'DejaVu Sans Condensed','DejaVu Sans','Liberation Sans',sans-serif" textLength="37.77" lengthAdjust="spacingAndGlyphs">53.130</text>
<g shape-rendering="crispEdges">
<rect x="5" y="547" width="1" height="11" fill="#c0c0c0"/>
<rect x="13" y="555" width="1" height="3" fill="#c0c0c0"/>
<rect x="21" y="555" width="1" height="3" fill="#c0c0c0"/>
<rect x="29" y="555" width="1" height="3" fill="#c0c0c0"/>
<rect x="37" y="555" width="1" height="3" fill="#c0c0c0"/>
<rect x="45" y="556" width="1" height="2" fill="#c0c0c0"/>
<rect x="53" y="556" width="1" height="2" fill="#c0c0c0"/>
<rect x="61" y="557" width="1" height="7" fill="#c0c0c0"/>
<rect x="69" y="557" width="1" height="11" fill="#c0c0c0"/>
<rect x="77" y="557" width="1" height="15" fill="#c0c0c0"/>
<rect x="85" y="557" width="1" height="17" fill="#c0c0c0"/>
<rect x="93" y="557" width="1" height="19" fill="#c0c0c0"/>
<rect x="101" y="557" width="1" height="19" fill="#c0c0c0"/>
<rect x="109" y="557" width="1" height="19" fill="#c0c0c0"/>
<rect x="117" y="557" width="1" height="19" fill="#c0c0c0"/>
<rect x="125" y="557" width="1" height="19" fill="#c0c0c0"/>
<rect x="133" y="557" width="1" height="18" fill="#c0c0c0"/>
<rect x="141" y="557" width="1" height="15" fill="#c0c0c0"/>
<rect x="149" y="557" width="1" height="14" fill="#c0c0c0"/>
<rect x="157" y="557" width="1" height="12" fill="#c0c0c0"/>
<rect x="165" y="557" width="1" height="10" fill="#c0c0c0"/>
<rect x="173" y="557" width="1" height="8" fill="#c0c0c0"/>
<rect x="181" y="557" width="1" height="8" fill="#c0c0c0"/>
<rect x="189" y="557" width="1" height="8" fill="#c0c0c0"/>
<rect x="197" y="557" width="1" height="8" fill="#c0c0c0"/>
<rect x="205" y="557" width="1" height="8" fill="#c0c0c0"/>
<rect x="213" y="557" width="1" height="8" fill="#c0c0c0"/>
<rect x="221" y="557" width="1" height="9" fill="#c0c0c0"/>
<rect x="229" y="557" width="1" height="8" fill="#c0c0c0"/>
<rect x="237" y="557" width="1" height="7" fill="#c0c0c0"/>
<rect x="245" y="557" width="1" height="7" fill="#c0c0c0"/>
<rect x="253" y="557" width="1" height="8" fill="#c0c0c0"/>
<rect x="261" y="557" width="1" height="12" fill="#c0c0c0"/>
<rect x="269" y="557" width="1" height="15" fill="#c0c0c0"/>
<rect x="277" y="557" width="1" height="17" fill="#c0c0c0"/>
<rect x="285" y="557" width="1" height="18" fill="#c0c0c0"/>
<rect x="293" y="557" width="1" height="19" fill="#c0c0c0"/>
<rect x="301" y="557" width="1" height="19" fill="#c0c0c0"/>
<rect x="309" y="557" width="1" height="18" fill="#c0c0c0"/>
<rect x="317" y="557" width="1" height="17" fill="#c0c0c0"/>
<rect x="325" y="557" width="1" height="17" fill="#c0c0c0"/>
<rect x="333" y="557" width="1" height="19" fill="#c0c0c0"/>
<rect x="341" y="557" width="1" height="22" fill="#c0c0c0"/>
<rect x="349" y="557" width="1" height="23" fill="#c0c0c0"/>
<rect x="357" y="557" width="1" height="21" fill="#c0c0c0"/>
<rect x="365" y="557" width="1" height="19" fill="#c0c0c0"/>
<rect x="373" y="557" width="1" height="15" fill="#c0c0c0"/>
<rect x="381" y="557" width="1" height="13" fill="#c0c0c0"/>
<rect x="389" y="557" width="1" height="11" fill="#c0c0c0"/>
<rect x="397" y="557" width="1" height="8" fill="#c0c0c0"/>
<rect x="405" y="557" width="1" height="9" fill="#c0c0c0"/>
<rect x="413" y="557" width="1" height="10" fill="#c0c0c0"/>
<rect x="421" y="557" width="1" height="10" fill="#c0c0c0"/>
<rect x="429" y="557" width="1" height="10" fill="#c0c0c0"/>
<rect x="437" y="557" width="1" height="8" fill="#c0c0c0"/>
<rect x="445" y="557" width="1" height="8" fill="#c0c0c0"/>
<rect x="453" y="557" width="1" height="8" fill="#c0c0c0"/>
<rect x="461" y="557" width="1" height="7" fill="#c0c0c0"/>
<rect x="469" y="557" width="1" height="5" fill="#c0c0c0"/>
<rect x="477" y="557" width="1" height="4" fill="#c0c0c0"/>
<rect x="485" y="557" width="1" height="4" fill="#c0c0c0"/>
<rect x="493" y="557" width="1" height="4" fill="#c0c0c0"/>
<rect x="501" y="557" width="1" height="4" fill="#c0c0c0"/>
<rect x="509" y="557" width="1" height="4" fill="#c0c0c0"/>
<rect x="517" y="557" width="1" height="4" fill="#c0c0c0"/>
<rect x="525" y="557" width="1" height="4" fill="#c0c0c0"/>
<rect x="533" y="557" width="1" height="2" fill="#c0c0c0"/>
<rect x="541" y="557" width="1" height="2" fill="#c0c0c0"/>
<rect x="549" y="557" width="1" height="1" fill="#c0c0c0"/>
<rect x="557" y="557" width="1" height="1" fill="#c0c0c0"/>
<rect x="565" y="557" width="1" height="1" fill="#c0c0c0"/>
<rect x="573" y="557" width="1" height="1" fill="#c0c0c0"/>
<rect x="581" y="557" width="1" height="1" fill="#c0c0c0"/>
<rect x="589" y="557" width="1" height="1" fill="#c0c0c0"/>
<rect x="597" y="557" width="1" height="1" fill="#c0c0c0"/>
<rect x="605" y="557" width="1" height="1" fill="#c0c0c0"/>
<rect x="613" y="557" width="1" height="1" fill="#c0c0c0"/>
<rect x="621" y="557" width="1" height="2" fill="#c0c0c0"/>
<rect x="629" y="557" width="1" height="3" fill="#c0c0c0"/>
<rect x="637" y="557" width="1" height="4" fill="#c0c0c0"/>
<rect x="645" y="557" width="1" height="4" fill="#c0c0c0"/>
<rect x="653" y="557" width="1" height="4" fill="#c0c0c0"/>
<rect x="661" y="557" width="1" height="3" fill="#c0c0c0"/>
<rect x="669" y="557" width="1" height="3" fill="#c0c0c0"/>
<rect x="677" y="557" width="1" height="3" fill="#c0c0c0"/>
<rect x="685" y="557" width="1" height="3" fill="#c0c0c0"/>
<rect x="693" y="557" width="1" height="3" fill="#c0c0c0"/>
<rect x="701" y="557" width="1" height="3" fill="#c0c0c0"/>
<rect x="709" y="557" width="1" height="2" fill="#c0c0c0"/>
<rect x="717" y="557" width="1" height="1" fill="#c0c0c0"/>
<rect x="725" y="556" width="1" height="2" fill="#c0c0c0"/>
<rect x="733" y="554" width="1" height="4" fill="#c0c0c0"/>
<rect x="741" y="553" width="1" height="5" fill="#c0c0c0"/>
<rect x="749" y="551" width="1" height="7" fill="#c0c0c0"/>
<rect x="757" y="548" width="1" height="10" fill="#c0c0c0"/>
<rect x="765" y="547" width="1" height="11" fill="#c0c0c0"/>
<rect x="773" y="545" width="1" height="13" fill="#c0c0c0"/>
<rect x="781" y="544" width="1" height="14" fill="#c0c0c0"/>
<rect x="789" y="544" width="1" height="14" fill="#c0c0c0"/>
<rect x="797" y="543" width="1" height="15" fill="#c0c0c0"/>
<rect x="805" y="543" width="1" height="15" fill="#c0c0c0"/>
<rect x="813" y="544" width="1" height="14" fill="#c0c0c0"/>
<rect x="821" y="546" width="1" height="12" fill="#c0c0c0"/>
<rect x="829" y="545" width="1" height="13" fill="#c0c0c0"/>
<rect x="837" y="544" width="1" height="14" fill="#c0c0c0"/>
<rect x="845" y="544" width="1" height="14" fill="#c0c0c0"/>
<rect x="853" y="545" width="1" height="13" fill="#c0c0c0"/>
<rect x="861" y="546" width="1" height="12" fill="#c0c0c0"/>
<rect x="869" y="547" width="1" height="11" fill="#c0c0c0"/>
<rect x="877" y="547" width="1" height="11" fill="#c0c0c0"/>
<rect x="885" y="548" width="1" height="10" fill="#c0c0c0"/>
<rect x="893" y="548" width="1" height="10" fill="#c0c0c0"/>
<rect x="901" y="548" width="1" height="10" fill="#c0c0c0"/>
<rect x="909" y="550" width="1" height="8" fill="#c0c0c0"/>
<rect x="917" y="551" width="1" height="7" fill="#c0c0c0"/>
<rect x="925" y="552" width="1" height="6" fill="#c0c0c0"/>
<rect x="933" y="554" width="1" height="4" fill="#c0c0c0"/>
<rect x="941" y="556" width="1" height="2" fill="#c0c0c0"/>
<rect x="949" y="557" width="1" height="1" fill="#c0c0c0"/>
<rect x="957" y="557" width="1" height="1" fill="#c0c0c0"/>
<rect x="965" y="557" width="1" height="6" fill="#c0c0c0"/>
<rect x="973" y="557" width="1" height="8" fill="#c0c0c0"/>
<rect x="981" y="557" width="1" height="10" fill="#c0c0c0"/>
<rect x="989" y="557" width="1" height="12" fill="#c0c0c0"/>
<rect x="997" y="557" width="1" height="15" fill="#c0c0c0"/>
<rect x="1005" y="557" width="1" height="21" fill="#c0c0c0"/>
<rect x="1013" y="557" width="1" height="28" fill="#c0c0c0"/>
<rect x="1021" y="557" width="1" height="32" fill="#c0c0c0"/>
<rect x="1029" y="557" width="1" height="34" fill="#c0c0c0"/>
<rect x="1037" y="557" width="1" height="35" fill="#c0c0c0"/>
<rect x="1045" y="557" width="1" height="36" fill="#c0c0c0"/>
<rect x="1053" y="557" width="1" height="37" fill="#c0c0c0"/>
<rect x="1061" y="557" width="1" height="36" fill="#c0c0c0"/>
<rect x="1069" y="557" width="1" height="34" fill="#c0c0c0"/>
<rect x="1077" y="557" width="1" height="33" fill="#c0c0c0"/>
<rect x="1085" y="557" width="1" height="32" fill="#c0c0c0"/>
<rect x="1093" y="557" width="1" height="31" fill="#c0c0c0"/>
<rect x="1101" y="557" width="1" height="30" fill="#c0c0c0"/>
<rect x="1109" y="557" width="1" height="28" fill="#c0c0c0"/>
<rect x="1117" y="557" width="1" height="26" fill="#c0c0c0"/>
<rect x="1125" y="557" width="1" height="23" fill="#c0c0c0"/>
<rect x="1133" y="557" width="1" height="21" fill="#c0c0c0"/>
<rect x="1141" y="557" width="1" height="19" fill="#c0c0c0"/>
<rect x="1149" y="557" width="1" height="17" fill="#c0c0c0"/>
<rect x="1157" y="557" width="1" height="16" fill="#c0c0c0"/>
<rect x="1165" y="557" width="1" height="15" fill="#c0c0c0"/>
<rect x="1173" y="557" width="1" height="14" fill="#c0c0c0"/>
<rect x="1181" y="557" width="1" height="14" fill="#c0c0c0"/>
<rect x="1189" y="557" width="1" height="14" fill="#c0c0c0"/>
<rect x="1197" y="557" width="1" height="16" fill="#c0c0c0"/>
<rect x="1205" y="557" width="1" height="17" fill="#c0c0c0"/>
<rect x="1213" y="557" width="1" height="16" fill="#c0c0c0"/>
<rect x="1221" y="557" width="1" height="14" fill="#c0c0c0"/>
<rect x="1229" y="557" width="1" height="11" fill="#c0c0c0"/>
<rect x="1237" y="557" width="1" height="8" fill="#c0c0c0"/>
<rect x="1245" y="557" width="1" height="7" fill="#c0c0c0"/>
<rect x="1253" y="557" width="1" height="9" fill="#c0c0c0"/>
<rect x="1261" y="557" width="1" height="12" fill="#c0c0c0"/>
<rect x="1269" y="557" width="1" height="17" fill="#c0c0c0"/>
<rect x="1277" y="557" width="1" height="21" fill="#c0c0c0"/>
<rect x="1285" y="557" width="1" height="24" fill="#c0c0c0"/>
<rect x="1293" y="557" width="1" height="27" fill="#c0c0c0"/>
<rect x="1301" y="557" width="1" height="30" fill="#c0c0c0"/>
<rect x="1309" y="557" width="1" height="35" fill="#c0c0c0"/>
<rect x="1317" y="557" width="1" height="40" fill="#c0c0c0"/>
</g>
<polyline points="5.0,543.4 12.8,544.1 25.5,546.7 38.3,548.8 51.0,551.4 63.8,554.0 74.0,556.1 83.0,560.3 95.7,564.8 108.5,569.3 121.2,572.5 134.0,574.4 140.4,575.4 153.1,575.4 165.9,573.5 178.7,571.4 191.4,570.2 204.2,568.6 217.0,566.7 239.0,566.3 245.5,565.4 254.5,565.4 258.3,566.3 271.0,566.3 277.4,567.6 283.8,568.4 296.6,569.3 303.0,571.4 309.3,572.5 322.1,573.7 331.0,575.3 347.6,576.3 373.1,576.3 392.3,575.3 405.0,573.1 417.8,570.9 430.6,569.3 442.6,567.6 459.1,566.3 478.3,565.1 480.8,564.2 497.4,563.5 506.4,562.2 526.8,562.2 531.9,561.2 542.1,561.0 548.5,560.3 567.6,560.3 574.0,559.4 593.1,559.4 603.3,558.4 625.0,558.4 631.4,559.4 641.6,559.4 646.7,560.3 660.0,560.3 679.1,560.7 685.5,561.4 704.7,561.4 717.4,560.7 723.8,559.4 736.6,558.4 749.3,556.9 757.0,555.6 768.5,553.3 774.9,552.0 781.2,550.5 787.6,549.2 794.0,547.6 800.4,545.7 813.1,545.4 819.5,544.4 832.3,543.7 851.4,543.4 857.8,544.4 881.3,544.4 886.4,545.4 905.5,545.4 908.1,546.3 918.3,547.6 937.4,548.5 943.8,549.5 956.6,551.4 963.0,553.3 969.3,554.6 975.7,557.1 982.1,557.8 988.5,559.7 994.9,561.0 1001.2,563.5 1007.6,566.3 1014.0,568.6 1020.4,571.8 1026.8,574.4 1033.1,576.9 1039.5,579.5 1045.9,582.4 1052.3,584.6 1058.7,586.5 1065.0,588.4 1071.4,590.3 1077.8,591.6 1103.2,591.6 1106.4,590.3 1119.1,589.3 1125.5,587.8 1131.9,586.5 1138.3,584.6 1144.7,583.7 1151.0,582.4 1157.4,581.4 1163.8,579.5 1170.2,578.6 1176.6,576.3 1189.3,574.8 1195.7,573.7 1214.9,573.5 1221.2,572.5 1234.0,572.2 1240.4,571.4 1246.8,570.5 1253.1,569.3 1263.4,569.3 1268.5,570.5 1285.0,571.4 1291.4,572.5 1297.8,573.7 1304.2,575.0 1310.6,577.6 1316.9,579.5" fill="none" stroke="#ff0000" stroke-width="1" stroke-dasharray="3,3" shape-rendering="crispEdges"/>
<text x="9.5" y="553.5" font-size="12" fill="#000" text-anchor="start" font-weight="normal" font-family="'DejaVu Sans Condensed','DejaVu Sans','Liberation Sans',sans-serif" textLength="177.5" lengthAdjust="spacingAndGlyphs">MACD(12,26,9) -1.3138 -0.7880</text>
<text x="1672.5" y="551" font-size="12" fill="#000" text-anchor="start" font-weight="normal" font-family="'DejaVu Sans Condensed','DejaVu Sans','Liberation Sans',sans-serif" textLength="37.77" lengthAdjust="spacingAndGlyphs">0.5653</text>
<text x="1672.5" y="561.5" font-size="12" fill="#000" text-anchor="start" font-weight="normal" font-family="'DejaVu Sans Condensed','DejaVu Sans','Liberation Sans',sans-serif" textLength="24.03" lengthAdjust="spacingAndGlyphs">0.00</text>
<text x="1672.5" y="597" font-size="12" fill="#000" text-anchor="start" font-weight="normal" font-family="'DejaVu Sans Condensed','DejaVu Sans','Liberation Sans',sans-serif" textLength="41.67" lengthAdjust="spacingAndGlyphs">-1.4033</text>
<rect x="1669" y="540" width="3" height="1" fill="#000"/>
<rect x="1669" y="557" width="3" height="1" fill="#000"/>
<line x1="6" y1="642.5" x2="1668" y2="642.5" stroke="#c0c0c0" stroke-width="1" stroke-dasharray="3,3" shape-rendering="crispEdges"/>
<line x1="6" y1="692.5" x2="1668" y2="692.5" stroke="#c0c0c0" stroke-width="1" stroke-dasharray="3,3" shape-rendering="crispEdges"/>
<polyline points="5.0,652.1 13.0,661.3 21.0,677.5 29.0,677.5 37.0,679.4 45.0,676.6 53.0,689.6 61.0,701.5 69.0,697.6 77.0,697.6 85.0,697.6 93.0,695.3 101.0,695.1 109.0,690.4 117.0,689.2 125.0,678.5 133.0,679.1 141.0,681.4 149.0,676.6 157.0,661.3 165.0,667.0 173.0,670.4 181.0,676.2 189.0,678.9 197.0,680.4 205.0,674.3 213.0,682.3 221.0,671.2 229.0,673.1 237.0,673.1 245.0,675.0 253.0,685.2 261.0,698.6 269.0,690.0 277.0,688.4 285.0,688.4 293.0,689.0 301.0,682.7 309.0,674.3 317.0,681.4 325.0,678.9 333.0,691.9 341.0,692.3 349.0,689.0 357.0,674.3 365.0,674.3 373.0,661.6 381.0,666.0 389.0,668.0 397.0,669.3 405.0,673.7 413.0,677.1 421.0,678.1 429.0,673.7 437.0,670.8 445.0,671.2 453.0,675.0 461.0,665.5 469.0,667.0 477.0,667.4 485.0,671.2 493.0,673.1 501.0,666.6 509.0,674.3 517.0,671.8 525.0,667.4 533.0,666.6 541.0,663.6 549.0,666.6 557.0,666.6 565.0,671.2 573.0,669.3 581.0,676.2 589.0,671.2 597.0,666.6 605.0,659.7 613.0,673.7 621.0,680.0 629.0,677.5 637.0,673.7 645.0,675.6 653.0,665.5 661.0,663.2 669.0,667.0 677.0,672.4 685.0,670.4 693.0,674.3 701.0,672.4 709.0,659.3 717.0,660.3 725.0,656.5 733.0,653.6 741.0,655.5 749.0,650.2 757.0,644.4 765.0,650.2 773.0,648.8 781.0,650.2 789.0,649.4 797.0,647.5 805.0,652.1 813.0,660.9 821.0,661.3 829.0,651.3 837.0,649.8 845.0,652.6 853.0,660.9 861.0,659.7 869.0,659.3 877.0,657.4 885.0,656.5 893.0,656.5 901.0,655.5 909.0,669.9 917.0,666.0 925.0,671.2 933.0,673.1 941.0,674.7 949.0,676.6 957.0,692.3 965.0,692.3 973.0,690.4 981.0,693.4 989.0,694.2 997.0,699.2 1005.0,712.0 1013.0,712.0 1021.0,711.0 1029.0,702.4 1037.0,702.4 1045.0,703.4 1053.0,706.2 1061.0,689.0 1069.0,686.5 1077.0,688.1 1085.0,690.9 1093.0,692.3 1101.0,688.4 1109.0,680.8 1117.0,679.4 1125.0,676.6 1133.0,677.0 1141.0,678.9 1149.0,677.5 1157.0,678.9 1165.0,680.0 1173.0,678.9 1181.0,685.2 1189.0,686.5 1197.0,695.7 1205.0,699.2 1213.0,669.3 1221.0,667.0 1229.0,666.0 1237.0,660.3 1245.0,668.0 1253.0,677.5 1261.0,685.2 1269.0,690.9 1277.0,692.8 1285.0,691.4 1293.0,694.9 1301.0,697.0 1309.0,705.2 1317.0,703.5" fill="none" stroke="#1e90ff" stroke-width="1" shape-rendering="crispEdges"/>
<text x="9.2" y="617.5" font-size="12" fill="#000" text-anchor="start" font-weight="normal" font-family="'DejaVu Sans Condensed','DejaVu Sans','Liberation Sans',sans-serif" textLength="91.3" lengthAdjust="spacingAndGlyphs">RSI(14) 21.2698</text>
<text x="1672.3" y="616.5" font-size="12" fill="#000" text-anchor="start" font-weight="normal" font-family="'DejaVu Sans Condensed','DejaVu Sans','Liberation Sans',sans-serif" textLength="20.61" lengthAdjust="spacingAndGlyphs">100</text>
<text x="1672.3" y="647" font-size="12" fill="#000" text-anchor="start" font-weight="normal" font-family="'DejaVu Sans Condensed','DejaVu Sans','Liberation Sans',sans-serif" textLength="13.73" lengthAdjust="spacingAndGlyphs">70</text>
<text x="1672.3" y="697.5" font-size="12" fill="#000" text-anchor="start" font-weight="normal" font-family="'DejaVu Sans Condensed','DejaVu Sans','Liberation Sans',sans-serif" textLength="13.73" lengthAdjust="spacingAndGlyphs">30</text>
<text x="1672.3" y="728" font-size="12" fill="#000" text-anchor="start" font-weight="normal" font-family="'DejaVu Sans Condensed','DejaVu Sans','Liberation Sans',sans-serif" textLength="6.88" lengthAdjust="spacingAndGlyphs">0</text>
<rect x="1669" y="604" width="3" height="1" fill="#000"/>
<rect x="1669" y="642" width="3" height="1" fill="#000"/>
<rect x="1669" y="692" width="3" height="1" fill="#000"/>
<rect x="5" y="732" width="1" height="4" fill="#000"/>
<text x="4" y="747" font-size="12" fill="#000" text-anchor="start" font-weight="normal" font-family="'DejaVu Sans Condensed','DejaVu Sans','Liberation Sans',sans-serif" textLength="66.73" lengthAdjust="spacingAndGlyphs">25 Apr 2019</text>
<rect x="101" y="732" width="1" height="4" fill="#000"/>
<text x="100" y="747" font-size="12" fill="#000" text-anchor="start" font-weight="normal" font-family="'DejaVu Sans Condensed','DejaVu Sans','Liberation Sans',sans-serif" textLength="70.38" lengthAdjust="spacingAndGlyphs">29 Apr 04:00</text>
<rect x="197" y="732" width="1" height="4" fill="#000"/>
<text x="196" y="747" font-size="12" fill="#000" text-anchor="start" font-weight="normal" font-family="'DejaVu Sans Condensed','DejaVu Sans','Liberation Sans',sans-serif" textLength="67.16" lengthAdjust="spacingAndGlyphs">1 May 04:00</text>
<rect x="293" y="732" width="1" height="4" fill="#000"/>
<text x="292" y="747" font-size="12" fill="#000" text-anchor="start" font-weight="normal" font-family="'DejaVu Sans Condensed','DejaVu Sans','Liberation Sans',sans-serif" textLength="67.16" lengthAdjust="spacingAndGlyphs">3 May 04:00</text>
<rect x="389" y="732" width="1" height="4" fill="#000"/>
<text x="388" y="747" font-size="12" fill="#000" text-anchor="start" font-weight="normal" font-family="'DejaVu Sans Condensed','DejaVu Sans','Liberation Sans',sans-serif" textLength="67.16" lengthAdjust="spacingAndGlyphs">7 May 00:00</text>
<rect x="485" y="732" width="1" height="4" fill="#000"/>
<text x="484" y="747" font-size="12" fill="#000" text-anchor="start" font-weight="normal" font-family="'DejaVu Sans Condensed','DejaVu Sans','Liberation Sans',sans-serif" textLength="67.16" lengthAdjust="spacingAndGlyphs">9 May 00:00</text>
<rect x="581" y="732" width="1" height="4" fill="#000"/>
<text x="580" y="747" font-size="12" fill="#000" text-anchor="start" font-weight="normal" font-family="'DejaVu Sans Condensed','DejaVu Sans','Liberation Sans',sans-serif" textLength="74.02" lengthAdjust="spacingAndGlyphs">12 May 23:00</text>
<rect x="677" y="732" width="1" height="4" fill="#000"/>
<text x="676" y="747" font-size="12" fill="#000" text-anchor="start" font-weight="normal" font-family="'DejaVu Sans Condensed','DejaVu Sans','Liberation Sans',sans-serif" textLength="74.02" lengthAdjust="spacingAndGlyphs">14 May 20:00</text>
<rect x="773" y="732" width="1" height="4" fill="#000"/>
<text x="772" y="747" font-size="12" fill="#000" text-anchor="start" font-weight="normal" font-family="'DejaVu Sans Condensed','DejaVu Sans','Liberation Sans',sans-serif" textLength="74.02" lengthAdjust="spacingAndGlyphs">16 May 20:00</text>
<rect x="869" y="732" width="1" height="4" fill="#000"/>
<text x="868" y="747" font-size="12" fill="#000" text-anchor="start" font-weight="normal" font-family="'DejaVu Sans Condensed','DejaVu Sans','Liberation Sans',sans-serif" textLength="74.02" lengthAdjust="spacingAndGlyphs">20 May 16:00</text>
<rect x="965" y="732" width="1" height="4" fill="#000"/>
<text x="964" y="747" font-size="12" fill="#000" text-anchor="start" font-weight="normal" font-family="'DejaVu Sans Condensed','DejaVu Sans','Liberation Sans',sans-serif" textLength="74.02" lengthAdjust="spacingAndGlyphs">22 May 16:00</text>
<rect x="1061" y="732" width="1" height="4" fill="#000"/>
<text x="1060" y="747" font-size="12" fill="#000" text-anchor="start" font-weight="normal" font-family="'DejaVu Sans Condensed','DejaVu Sans','Liberation Sans',sans-serif" textLength="74.02" lengthAdjust="spacingAndGlyphs">24 May 16:00</text>
<rect x="1157" y="732" width="1" height="4" fill="#000"/>
<text x="1156" y="747" font-size="12" fill="#000" text-anchor="start" font-weight="normal" font-family="'DejaVu Sans Condensed','DejaVu Sans','Liberation Sans',sans-serif" textLength="74.02" lengthAdjust="spacingAndGlyphs">28 May 12:00</text>
<rect x="1253" y="732" width="1" height="4" fill="#000"/>
<text x="1252" y="747" font-size="12" fill="#000" text-anchor="start" font-weight="normal" font-family="'DejaVu Sans Condensed','DejaVu Sans','Liberation Sans',sans-serif" textLength="74.02" lengthAdjust="spacingAndGlyphs">30 May 12:00</text>
<path d="M8 52 L12.5 47.5 L17 52 Z" fill="#000"/>
<text x="23.4" y="54" font-size="12" fill="#000" text-anchor="start" font-weight="normal" font-family="'DejaVu Sans Condensed','DejaVu Sans','Liberation Sans',sans-serif" textLength="49.8" lengthAdjust="spacingAndGlyphs">USOil-,H4</text>
<text x="82.2" y="54" font-size="12" fill="#000" text-anchor="start" font-weight="normal" font-family="'DejaVu Sans Condensed','DejaVu Sans','Liberation Sans',sans-serif" textLength="166.7" lengthAdjust="spacingAndGlyphs">53.220 53.360 53.220 53.330</text>
<defs><linearGradient id="gTab" x1="0" y1="0" x2="0" y2="1"><stop offset="0" stop-color="#5e5eff"/><stop offset="1" stop-color="#3c3ce8"/></linearGradient><linearGradient id="gBox" x1="0" y1="0" x2="0" y2="1"><stop offset="0" stop-color="#3c3ce6"/><stop offset="1" stop-color="#0202ac"/></linearGradient><linearGradient id="gBtn" x1="0" y1="0" x2="0" y2="1"><stop offset="0" stop-color="#f2f2f2"/><stop offset="0.42" stop-color="#ebebeb"/><stop offset="0.46" stop-color="#dddddd"/><stop offset="1" stop-color="#d2d2d2"/></linearGradient></defs>
<rect x="6" y="58" width="287" height="82" fill="#ffffff"/>
<rect x="8" y="62" width="68" height="28" fill="#00009c"/>
<rect x="9" y="63" width="66" height="26" fill="url(#gTab)"/>
<rect x="223" y="62" width="68" height="28" fill="#00009c"/>
<rect x="224" y="63" width="66" height="26" fill="url(#gTab)"/>
<rect x="8" y="89" width="141" height="49" fill="#00009c"/>
<rect x="9" y="90" width="139" height="47" fill="url(#gBox)"/>
<rect x="151" y="89" width="140" height="49" fill="#00009c"/>
<rect x="152" y="90" width="138" height="47" fill="url(#gBox)"/>
<rect x="9" y="89" width="66" height="1" fill="#3c3ce8"/>
<rect x="224" y="89" width="66" height="1" fill="#3c3ce8"/>
<rect x="12" y="88" width="61" height="1" fill="#1a1ab8"/>
<rect x="12" y="89" width="61" height="1" fill="#8c8cff"/>
<rect x="227" y="88" width="61" height="1" fill="#1a1ab8"/>
<rect x="227" y="89" width="61" height="1" fill="#8c8cff"/>
<rect x="78" y="62" width="143" height="25" fill="#a9a9a9"/>
<rect x="79" y="63" width="141" height="23" fill="#ffffff"/>
<rect x="80" y="64" width="21" height="21" fill="url(#gBtn)"/>
<rect x="198" y="64" width="21" height="21" fill="url(#gBtn)"/>
<rect x="102" y="63" width="1" height="23" fill="#a9a9a9"/>
<rect x="196" y="63" width="1" height="23" fill="#a9a9a9"/>
<path d="M87 73 L94.2 73 L90.6 77.2 Z" fill="#5466b8"/>
<path d="M204.5 77 L211.7 77 L208.1 72.8 Z" fill="#5466b8"/>
<text x="193" y="80" font-size="15" fill="#000" text-anchor="end" font-weight="normal" font-family="'DejaVu Sans Condensed','DejaVu Sans',sans-serif" textLength="30.05" lengthAdjust="spacingAndGlyphs">1.00</text>
<text x="25" y="81" font-size="15" fill="#fff" text-anchor="start" font-weight="normal" font-family="'DejaVu Sans Condensed','DejaVu Sans','Liberation Sans',sans-serif" textLength="33" lengthAdjust="spacingAndGlyphs">SELL</text>
<text x="241" y="81" font-size="15" fill="#fff" text-anchor="start" font-weight="normal" font-family="'DejaVu Sans Condensed','DejaVu Sans','Liberation Sans',sans-serif" textLength="31" lengthAdjust="spacingAndGlyphs">BUY</text>
<text x="47" y="127" font-size="14" fill="#fff" text-anchor="start" font-weight="bold" font-family="'DejaVu Sans Condensed','DejaVu Sans','Liberation Sans',sans-serif" textLength="20.2" lengthAdjust="spacingAndGlyphs">53</text>
<text x="69.3" y="126.8" font-size="40" fill="#fff" text-anchor="start" font-weight="normal" font-family="'DejaVu Sans Condensed','DejaVu Sans','Liberation Sans',sans-serif" textLength="45.3" lengthAdjust="spacingAndGlyphs">33</text>
<text x="117.2" y="109.6" font-size="15" fill="#fff" text-anchor="start" font-weight="bold" font-family="'DejaVu Sans Condensed','DejaVu Sans','Liberation Sans',sans-serif" textLength="11.4" lengthAdjust="spacingAndGlyphs">0</text>
<text x="189" y="127" font-size="14" fill="#fff" text-anchor="start" font-weight="bold" font-family="'DejaVu Sans Condensed','DejaVu Sans','Liberation Sans',sans-serif" textLength="19.7" lengthAdjust="spacingAndGlyphs">53</text>
<text x="211.5" y="126.8" font-size="40" fill="#fff" text-anchor="start" font-weight="normal" font-family="'DejaVu Sans Condensed','DejaVu Sans','Liberation Sans',sans-serif" textLength="47" lengthAdjust="spacingAndGlyphs">38</text>
<text x="260.2" y="109.6" font-size="15" fill="#fff" text-anchor="start" font-weight="bold" font-family="'DejaVu Sans Condensed','DejaVu Sans','Liberation Sans',sans-serif" textLength="11.4" lengthAdjust="spacingAndGlyphs">0</text>
<path d="M1328 40 L1339 40 L1333.5 46 Z" fill="#c0c0c0"/>
<text x="1175.7" y="163" font-size="53" fill="#ff2418" class="raw" font-family="'Liberation Sans','Noto Sans CJK SC',sans-serif" textLength="256" lengthAdjust="spacing">多空转折点</text>
<text x="1430" y="160.3" font-size="55" fill="#ff2418" class="raw" font-family="'Liberation Sans',sans-serif" textLength="55" lengthAdjust="spacingAndGlyphs">53</text>
</svg></body></html>
